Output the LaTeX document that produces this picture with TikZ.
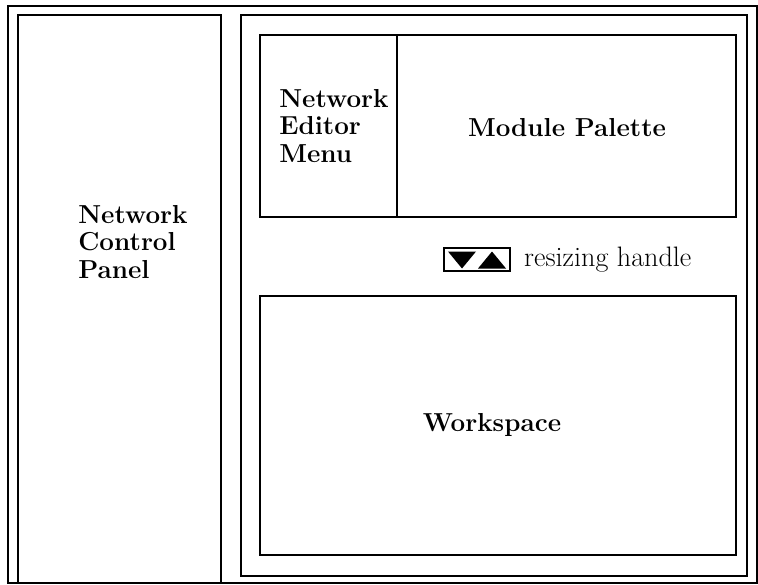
\documentclass[tikz,border=0pt]{standalone}
\usepackage{tikz}
\usetikzlibrary{positioning}

\begin{document}
\begin{tikzpicture}[x=1cm,y=1cm,
    panel/.style={draw=black,line width=1.3pt,inner sep=0pt,minimum width=#1},
    label/.style={font=\fontsize{14.8}{15.4}\selectfont\bfseries,align=left,inner sep=0pt}]
    \useasboundingbox (0,0) rectangle (15.16,11.68);
    % frames
    \node[draw=black,line width=1pt,inner sep=0pt,minimum width=14.98cm,minimum height=11.54cm] (frame) at (7.65,5.79) {};
    \node[panel=4.06cm,minimum height=11.36cm] (ctrl) at (2.39,5.70) {};
    \node[panel=10.12cm,minimum height=11.22cm] (editor) at (9.88,5.77) {};
    \node[panel=2.74cm,minimum height=3.64cm] (menu) at (6.57,9.16) {};
    \node[panel=6.78cm,minimum height=3.64cm] (palette) at (11.33,9.16) {};
    \node[panel=9.52cm,minimum height=5.18cm] (work) at (9.96,3.17) {};
    % texts
    \node[label,anchor=west] (ctrltxt) at (1.56,6.84) {Network\\Control\\Panel};
    \node[label,anchor=west] (menutxt) at (5.58,9.16) {Network\\Editor\\Menu};
    \node[label] (paltxt) at (11.34,9.12) {Module Palette};
    \node[label] (worktxt) at (9.84,3.18) {Workspace};
    % resizing handle
    \node[draw=black,line width=1pt,inner sep=0pt,minimum width=1.32cm,minimum height=0.46cm] (hdl) at (9.54,6.49) {};
    \fill[black] ([xshift=-0.58cm,yshift=0.16cm]hdl.center) -- ++(0.56,0) -- ++(-0.28,-0.34) -- cycle;
    \fill[black] ([xshift=0.02cm,yshift=-0.18cm]hdl.center) -- ++(0.56,0) -- ++(-0.28,0.34) -- cycle;
    \node[font=\fontsize{16}{18}\selectfont,inner sep=0pt,right=0.26cm of hdl] (hdltxt) {resizing handle};
\end{tikzpicture}
\end{document}
